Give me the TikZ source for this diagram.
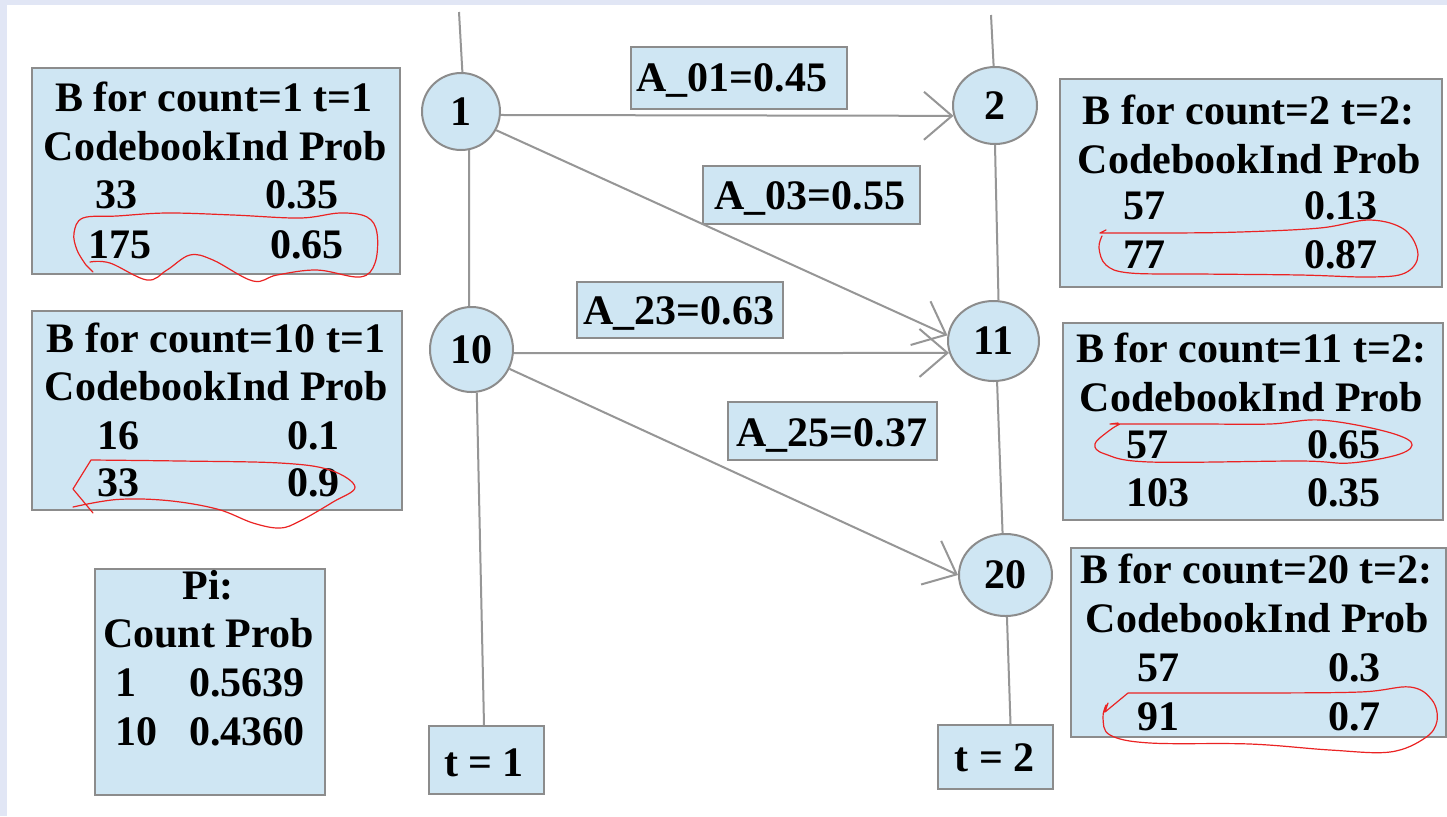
\documentclass[tikz,border=0pt]{standalone}
\usepackage{fontspec}
\setmainfont{Liberation Serif}
\usetikzlibrary{arrows.meta,shapes.geometric,calc}
\definecolor{boxfill}{RGB}{207,230,243}
\definecolor{boxline}{RGB}{140,140,140}
\definecolor{edgegray}{RGB}{150,150,150}
\definecolor{framecol}{RGB}{225,230,245}
\definecolor{scribble}{RGB}{235,35,35}
\begin{document}
\begin{tikzpicture}[x=0.5pt,y=-0.5pt,
  font=\fontsize{21pt}{24pt}\selectfont\bfseries,
  panel/.style={draw=boxline, fill=boxfill, line width=1pt, rectangle, inner sep=0pt, anchor=north west},
  txt/.style={inner sep=0pt, anchor=base west},
  ctxt/.style={inner sep=0pt, anchor=base},
  state/.style={ellipse, draw=boxline, fill=boxfill, line width=1pt, inner sep=0pt},
  link/.style={draw=edgegray, line width=1pt},
  trans/.style={link, -{Straight Barb[length=14pt,width=24pt]}},
  redloop/.style={draw=scribble, line width=0.6pt, line join=round, line cap=round},
]
% background / frame
\fill[framecol] (0,0) rectangle (1447,816);
\fill[white] (7,5) rectangle (1447,816);
\useasboundingbox (0,0) rectangle (1447,816);

% ---------- left tables ----------
\node[panel, minimum width=184pt, minimum height=103pt] (b1) at (31,67) {};
\node[ctxt] (b1h1) at (214,111) {B for count=1 t=1};
\node[ctxt] (b1h2) at (215.5,160) {CodebookInd Prob};
\node[txt] (b1a) at (95,208) {33};
\node[txt] (b1b) at (265,208) {0.35};
\node[txt] (b1c) at (88,258) {175};
\node[txt] (b1d) at (270,258) {0.65};

\node[panel, minimum width=185pt, minimum height=99.5pt] (b10) at (31,310) {};
\node[ctxt] (b10h1) at (216,352) {B for count=10 t=1};
\node[ctxt] (b10h2) at (216.5,400) {CodebookInd Prob};
\node[txt] (b10a) at (97,449) {16};
\node[txt] (b10b) at (287,449) {0.1};
\node[txt] (b10c) at (97,496) {33};
\node[txt] (b10d) at (287,496) {0.9};

\node[panel, minimum width=115pt, minimum height=113pt] (pi) at (94,568) {};
\node[ctxt] (pih1) at (208,599) {Pi:};
\node[ctxt] (pih2) at (208.5,647) {Count Prob};
\node[txt] (pia) at (115,696) {1};
\node[txt] (pib) at (189,696) {0.5639};
\node[txt] (pic) at (115,745) {10};
\node[txt] (pid) at (189,745) {0.4360};

% ---------- right tables ----------
\node[panel, minimum width=191pt, minimum height=104pt] (b2) at (1059,78) {};
\node[ctxt] (b2h1) at (1248.5,124) {B for count=2 t=2:};
\node[ctxt] (b2h2) at (1249.5,173) {CodebookInd Prob};
\node[txt] (b2a) at (1123,219) {57};
\node[txt] (b2b) at (1304,219) {0.13};
\node[txt] (b2c) at (1123,268) {77};
\node[txt] (b2d) at (1304,268) {0.87};

\node[panel, minimum width=190pt, minimum height=98.5pt] (b11) at (1062,322) {};
\node[ctxt] (b11h1) at (1251,362) {B for count=11 t=2:};
\node[ctxt] (b11h2) at (1251.5,411) {CodebookInd Prob};
\node[txt] (b11a) at (1126,458) {57};
\node[txt] (b11b) at (1307,458) {0.65};
\node[txt] (b11c) at (1126,506) {103};
\node[txt] (b11d) at (1307,506) {0.35};

\node[panel, minimum width=187.5pt, minimum height=94.5pt] (b20) at (1070,547) {};
\node[ctxt] (b20h1) at (1256.5,583) {B for count=20 t=2:};
\node[ctxt] (b20h2) at (1257.5,632) {CodebookInd Prob};
\node[txt] (b20a) at (1137,681) {57};
\node[txt] (b20b) at (1328,681) {0.3};
\node[txt] (b20c) at (1137,730) {91};
\node[txt] (b20d) at (1328,730) {0.7};

% ---------- time boxes ----------
\node[panel, minimum width=57.5pt, minimum height=34pt] (t1) at (428,725) {};
\node[ctxt] (t1txt) at (484,776) {t = 1};
\node[panel, minimum width=57.5pt, minimum height=32pt] (t2) at (937,724) {};
\node[ctxt] (t2txt) at (994.5,771) {t = 2};

% ---------- transition labels ----------
\node[panel, minimum width=108pt, minimum height=31pt] (a01) at (630,46) {};
\node[txt] (a01t) at (636,91) {A\_01=0.45};
\node[panel, minimum width=108.5pt, minimum height=29pt] (a03) at (702,165) {};
\node[txt] (a03t) at (714,209) {A\_03=0.55};
\node[panel, minimum width=103pt, minimum height=28pt] (a23) at (576,281) {};
\node[txt] (a23t) at (583,324) {A\_23=0.63};
\node[panel, minimum width=104.5pt, minimum height=29pt] (a25) at (727,401) {};
\node[txt] (a25t) at (736,446) {A\_25=0.37};

% ---------- states ----------
\node[state, minimum width=39pt, minimum height=38.5pt] (n1) at (461,111.5) {1};
\node[state, minimum width=41.5pt, minimum height=42.5pt] (n10) at (471.5,349.5) {10};
\node[state, minimum width=42pt, minimum height=38.5pt] (n2) at (995,105.5) {2};
\node[state, minimum width=45.5pt, minimum height=40pt] (n11) at (993.5,341) {11};
\node[state, minimum width=46.5pt, minimum height=41pt] (n20) at (1005.5,575) {20};

% ---------- time lines ----------
\coordinate (top1) at (459,12);
\coordinate (top2) at (991,15);
\draw[link] (top1) -- (n1.88);
\draw[link] (n1.-78) -- (n10.93);
\draw[link] (n10.-83) -- ($(t1.north)+(-2.5,0)$);
\draw[link] (top2) -- (n2.92);
\draw[link] (n2.-90) -- (n11.83);
\draw[link] (n11.-85) -- (n20.94);
\draw[link] (n20.-88) -- ($(t2.north)+(15,0)$);

% ---------- transitions ----------
\draw[trans] (n1.-5) -- (n2.194);
\draw[trans] (n1.-28) -- (n11.173);
\draw[trans] (n10.-5) -- (n11.195);
\draw[trans] (n10.-27) -- (n20.180);

% ---------- red hand-drawn loops ----------
\draw[redloop] plot[smooth, tension=0.6] coordinates {(90,262) (110,263) (147,280) (167,270) (190,255) (213,260) (253,281) (277,275) (317,270) (360,277) (375,263) (377,233) (367,217) (340,213) (300,218) (233,215) (167,213) (117,216) (83,218) (74,233) (77,250) (86,265)} -- (93,272);
\draw[redloop] (93,513) -- (73,489) -- (91,460) plot[smooth, tension=0.6] coordinates {(91,460) (180,461) (280,463) (330,470) (355,487) (333,502) (300,521) (280,528) (253,523) (217,509) (167,500.5) (117,499.5) (73,507)};
\draw[redloop] (1106,230) -- (1100,233) plot[smooth, tension=0.6] coordinates {(1100,233) (1170,233) (1240,232) (1320,228) (1370,220) (1405,230) (1418,255) (1405,273) (1370,277) (1300,275) (1200,274) (1130,273) (1106,265) (1099,248) (1102,236)};
\draw[redloop] (1118,423) -- (1110,424) plot[smooth, tension=0.6] coordinates {(1110,424) (1200,424) (1270,424) (1320,420) (1380,430) (1411,442) (1400,454) (1350,463) (1300,461) (1150,462) (1105,454) (1095,444) (1110,430) (1120,424)};
\draw[redloop] (1108,703) -- (1105,712) -- (1128,693) plot[smooth, tension=0.6] coordinates {(1128,693) (1250,693) (1360,692) (1410,687) (1432,700) (1437,721) (1425,738) (1390,752) (1330,750) (1250,744) (1150,743) (1110,735) (1103,718) (1106,705)};
\end{tikzpicture}
\end{document}
